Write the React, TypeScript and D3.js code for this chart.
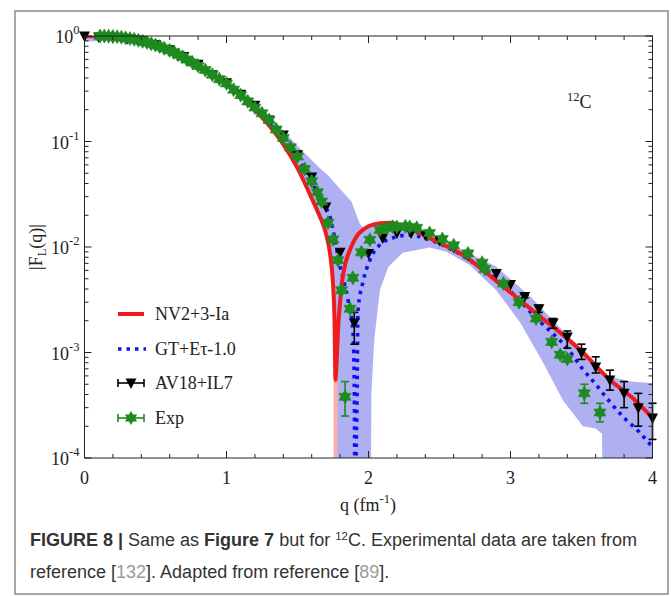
import React from 'react';
import * as d3 from 'd3';

// ---------- data ----------
const redQ = [0, 0.2, 0.4, 0.6, 0.8, 1.0, 1.1, 1.2, 1.3, 1.4, 1.5, 1.6, 1.65, 1.7, 1.73, 1.75, 1.76, 1.768, 1.775, 1.785, 1.8, 1.813, 1.84, 1.87, 1.92, 1.96, 2.0, 2.08, 2.15, 2.3, 2.45, 2.665, 2.95, 3.19, 3.49, 3.7, 3.85, 4.0];
const redV = [1.0, 0.96, 0.855, 0.7, 0.5, 0.345, 0.27, 0.2, 0.142, 0.094, 0.056, 0.029, 0.0205, 0.0135, 0.0085, 0.0045, 0.0022, 0.00055, 0.0008, 0.0016, 0.003, 0.0046, 0.0072, 0.0094, 0.0128, 0.0145, 0.0157, 0.0168, 0.017, 0.0148, 0.0118, 0.0084, 0.0042, 0.0023, 0.00106, 0.00055, 0.00038, 0.00024];

const blueQ = [0, 0.2, 0.4, 0.6, 0.8, 1.0, 1.2, 1.4, 1.5, 1.6, 1.66, 1.73, 1.8, 1.855, 1.89, 1.9, 1.905, 1.912, 1.919, 1.926, 1.96, 2.01, 2.08, 2.2, 2.29, 2.43, 2.55, 2.8, 3.0, 3.2, 3.3, 3.4, 3.5, 3.6, 3.7, 3.8, 3.9, 4.0];
const blueV = [1.0, 0.965, 0.87, 0.72, 0.53, 0.37, 0.22, 0.1, 0.068, 0.042, 0.028, 0.019, 0.0065, 0.0032, 0.0016, 0.0005, 0.00003, 0.0001, 0.00035, 0.0025, 0.0046, 0.0075, 0.0105, 0.0125, 0.013, 0.0117, 0.010, 0.0062, 0.0038, 0.002, 0.0015, 0.0011, 0.00072, 0.0005, 0.00034, 0.00024, 0.00018, 0.000127];

const bandUpQ = [0, 0.3, 0.6, 0.9, 1.1, 1.3, 1.47, 1.55, 1.65, 1.72, 1.78, 1.84, 1.88, 1.91, 1.94, 1.97, 2.05, 2.15, 2.3, 2.5, 2.67, 2.9, 3.14, 3.37, 3.56, 3.7, 3.85, 4.0];
const bandUpV = [1.0, 0.955, 0.74, 0.47, 0.31, 0.178, 0.1, 0.078, 0.057, 0.047, 0.038, 0.031, 0.027, 0.021, 0.0165, 0.0148, 0.0162, 0.0167, 0.0148, 0.0118, 0.0093, 0.0065, 0.0034, 0.0016, 0.0008, 0.00059, 0.00053, 0.00051];
const bandLoQ = [0, 0.15, 0.3, 0.45, 0.6, 0.8, 1.0, 1.2, 1.4, 1.5, 1.6, 1.7, 1.75, 1.762, 1.768, 2.012, 2.02, 2.04, 2.08, 2.14, 2.24, 2.43, 2.55, 2.71, 2.9, 3.07, 3.23, 3.37, 3.51, 3.6, 3.645, 3.655, 4.0];
const bandLoV = [0.88, 0.9, 0.92, 0.82, 0.69, 0.5, 0.34, 0.2, 0.094, 0.056, 0.029, 0.0135, 0.0045, 0.0012, 0.000001, 0.000001, 0.0004, 0.0013, 0.0039, 0.0065, 0.0088, 0.0099, 0.009, 0.0068, 0.0039, 0.0019, 0.0008, 0.00035, 0.0002, 0.00019, 0.00017, 0.000001, 0.000001];

const pinkQ = [1.745, 1.752, 1.758, 1.778, 1.784, 1.795];
const pinkHi = [0.0055, 0.0035, 0.0018, 0.0012, 0.0018, 0.0028];
const pinkLo = [0.0052, 0.003, 0.000001, 0.000001, 0.0014, 0.0026];

const avQ = [0, 0.1, 0.2, 0.3, 0.4, 0.5, 0.6, 0.7, 0.8, 0.9, 1.0, 1.1, 1.2, 1.3, 1.4, 1.5, 1.6, 1.7, 1.8, 1.9, 2.0, 2.1, 2.2, 2.3, 2.4, 2.5, 2.6, 2.7, 2.8, 2.9, 3.0, 3.1, 3.2, 3.3, 3.4, 3.5, 3.6, 3.7, 3.8, 3.9, 4.0];
const avV = [1.0, 0.98, 0.97, 0.94, 0.9, 0.83, 0.74, 0.64, 0.54, 0.43, 0.36, 0.28, 0.22, 0.16, 0.115, 0.075, 0.046, 0.024, 0.0089, 0.0019, 0.0087, 0.0122, 0.0136, 0.0136, 0.013, 0.0115, 0.0099, 0.0083, 0.0068, 0.0056, 0.0044, 0.0034, 0.0026, 0.0019, 0.0014, 0.001, 0.00073, 0.00055, 0.00041, 0.0003, 0.00024];
const avLo = [1.0, 0.98, 0.97, 0.94, 0.9, 0.83, 0.74, 0.64, 0.54, 0.43, 0.36, 0.28, 0.22, 0.16, 0.115, 0.075, 0.046, 0.024, 0.0089, 0.0012, 0.0087, 0.0122, 0.0136, 0.0136, 0.013, 0.0115, 0.0099, 0.0083, 0.0068, 0.0056, 0.0044, 0.0033, 0.0024, 0.0017, 0.0011, 0.00086, 0.00064, 0.00044, 0.0003, 0.0002, 0.00015];
const avHi = [1.0, 0.98, 0.97, 0.94, 0.9, 0.83, 0.74, 0.64, 0.54, 0.43, 0.36, 0.28, 0.22, 0.16, 0.115, 0.075, 0.046, 0.024, 0.0089, 0.0024, 0.0087, 0.0122, 0.0136, 0.0136, 0.013, 0.0115, 0.0099, 0.0083, 0.0068, 0.0056, 0.0044, 0.0035, 0.0028, 0.0021, 0.0016, 0.0012, 0.00091, 0.00068, 0.00053, 0.00041, 0.00033];

const expQ = [0.11, 0.14, 0.17, 0.2, 0.23, 0.26, 0.29, 0.32, 0.35, 0.38, 0.41, 0.44, 0.47, 0.5, 0.53, 0.56, 0.6, 0.63, 0.66, 0.69, 0.72, 0.76, 0.8, 0.85, 0.9, 0.95, 1.0, 1.05, 1.1, 1.15, 1.2, 1.25, 1.3, 1.35, 1.4, 1.45, 1.5, 1.55, 1.6, 1.64, 1.67, 1.715, 1.75, 1.785, 1.81, 1.835, 1.87, 1.89, 1.95, 2.01, 2.08, 2.13, 2.17, 2.2, 2.26, 2.29, 2.34, 2.43, 2.52, 2.6, 2.7, 2.8, 2.82, 2.95, 3.06, 3.18, 3.29, 3.35, 3.4, 3.52, 3.63];
const expV = [1.0, 1.0, 0.995, 0.99, 0.985, 0.975, 0.96, 0.945, 0.93, 0.91, 0.89, 0.87, 0.845, 0.82, 0.795, 0.765, 0.73, 0.70, 0.665, 0.635, 0.6, 0.56, 0.52, 0.475, 0.43, 0.39, 0.355, 0.31, 0.275, 0.24, 0.21, 0.185, 0.16, 0.13, 0.108, 0.088, 0.072, 0.055, 0.042, 0.033, 0.027, 0.017, 0.0118, 0.0075, 0.0039, 0.00038, 0.0026, 0.0051, 0.0089, 0.0117, 0.0145, 0.0152, 0.0156, 0.0155, 0.0157, 0.0155, 0.0152, 0.0136, 0.0119, 0.0104, 0.0087, 0.0071, 0.0062, 0.0045, 0.003, 0.0021, 0.00126, 0.00095, 0.00087, 0.00041, 0.00027];
const expErrQ = [1.835, 3.52, 3.63];
const expErrLo = [0.00025, 0.00033, 0.00022];
const expErrHi = [0.00053, 0.0005, 0.00033];

const xTicks = [0, 1, 2, 3, 4];
const yTickExp = [0, -1, -2, -3, -4];
const legendLabels = ['NV2+3-Ia', 'GT+E\u03C4-1.0', 'AV18+IL7', 'Exp'];

const RED = '#ee1c1c';
const BLUE = '#1010f0';
const GREEN = '#1f8a1f';
const BAND = '#aeb0f2';
const PINK = '#f6b2b2';
const SERIF = '"Liberation Serif", "DejaVu Serif", serif';
const SANS = '"Liberation Sans Narrow", "Liberation Sans", Arial, sans-serif';

function hexagram(cx: number, cy: number, R: number) {
  const r = R * 0.58;
  const pts: string[] = [];
  for (let i = 0; i < 12; i++) {
    const a = -Math.PI / 2 + (i * Math.PI) / 6;
    const rr = i % 2 === 0 ? R : r;
    pts.push(`${cx + rr * Math.cos(a)},${cy + rr * Math.sin(a)}`);
  }
  return 'M' + pts.join('L') + 'Z';
}
function triDown(cx: number, cy: number) {
  return `M${cx - 5.5},${cy - 4.5}L${cx + 5.5},${cy - 4.5}L${cx},${cy + 6}Z`;
}

export default function App() {
  const x = d3.scaleLinear().domain([0, 4]).range([84.5, 652.5]);
  const y = d3.scaleLog().domain([1e-4, 1]).range([458, 36]);
  const X0 = x(0), X1 = x(4), Y0 = y(1e-4), Y1 = y(1);

  const mk = (qs: number[], vs: number[]) =>
    d3.line<number>().x((_, i) => x(qs[i])).y((_, i) => y(vs[i])).curve(d3.curveMonotoneX)(qs) || '';

  const redPath = mk(redQ, redV);
  const bluePath = mk(blueQ, blueV);

  const polyPts: [number, number][] = [];
  bandUpQ.forEach((q, i) => polyPts.push([x(q), y(bandUpV[i])]));
  for (let i = bandLoQ.length - 1; i >= 0; i--) polyPts.push([x(bandLoQ[i]), y(bandLoV[i])]);
  const bandPath = d3.line()(polyPts) + 'Z';

  const pinkPts: [number, number][] = [];
  pinkQ.forEach((q, i) => pinkPts.push([x(q), y(pinkHi[i])]));
  for (let i = pinkQ.length - 1; i >= 0; i--) pinkPts.push([x(pinkQ[i]), y(pinkLo[i])]);
  const pinkPath = d3.line()(pinkPts) + 'Z';

  const xMinor: number[] = d3.range(0, 4.0001, 0.2).filter((v) => Math.abs(v - Math.round(v)) > 1e-6);
  const yMinor: number[] = [];
  for (let k = -4; k < 0; k++) for (let m = 2; m <= 9; m++) yMinor.push(m * Math.pow(10, k));

  const legendY = [314, 349, 383, 418];
  const lx0 = 118, lx1 = 144, lxm = 131;

  return (
    <div style={{ position: 'absolute', left: 0, top: 0 }}>
      <svg width={671} height={596} style={{ display: 'block', background: '#fff' }}>
        <defs>
          <clipPath id="plotclip">
            <rect x={X0} y={Y1} width={X1 - X0} height={Y0 - Y1} />
          </clipPath>
        </defs>
        <rect x={15} y={11} width={653} height={583} fill="none" stroke="#8a8a8a" strokeWidth={1.5} />

        <g clipPath="url(#plotclip)">
          <path d={bandPath} fill={BAND} stroke="none" />
          <path d={pinkPath} fill={PINK} stroke="none" />
          <path d={bluePath} fill="none" stroke={BLUE} strokeWidth={3.6} strokeDasharray="3.5,5" />
          <path d={redPath} fill="none" stroke={RED} strokeWidth={4} />
        </g>

        <g>
          {avQ.map((q, i) =>
            avHi[i] > avLo[i] ? (
              <g key={'e' + i} stroke="#000" strokeWidth={1.6}>
                <line x1={x(q)} x2={x(q)} y1={y(avLo[i])} y2={y(avHi[i])} />
                <line x1={x(q) - 4} x2={x(q) + 4} y1={y(avLo[i])} y2={y(avLo[i])} />
                <line x1={x(q) - 4} x2={x(q) + 4} y1={y(avHi[i])} y2={y(avHi[i])} />
              </g>
            ) : null
          )}
          {avQ.map((q, i) => (
            <path key={'t' + i} d={triDown(x(q), y(avV[i]))} fill="#000" />
          ))}
        </g>

        <g>
          {expErrQ.map((q, i) => (
            <g key={'ge' + i} stroke={GREEN} strokeWidth={1.6}>
              <line x1={x(q)} x2={x(q)} y1={y(expErrLo[i])} y2={y(expErrHi[i])} />
              <line x1={x(q) - 4} x2={x(q) + 4} y1={y(expErrLo[i])} y2={y(expErrLo[i])} />
              <line x1={x(q) - 4} x2={x(q) + 4} y1={y(expErrHi[i])} y2={y(expErrHi[i])} />
            </g>
          ))}
          {expQ.map((q, i) => (
            <path key={'g' + i} d={hexagram(x(q), y(expV[i]), 7)} fill={GREEN} stroke={GREEN} strokeWidth={0.6} />
          ))}
        </g>

        <rect x={X0} y={Y1} width={X1 - X0} height={Y0 - Y1} fill="none" stroke="#222" strokeWidth={1} />
        {xTicks.map((t) => (
          <g key={'xt' + t} stroke="#222">
            <line x1={x(t)} x2={x(t)} y1={Y0} y2={Y0 - 7} />
            <line x1={x(t)} x2={x(t)} y1={Y1} y2={Y1 + 7} />
          </g>
        ))}
        {xMinor.map((t, i) => (
          <g key={'xm' + i} stroke="#222">
            <line x1={x(t)} x2={x(t)} y1={Y0} y2={Y0 - 4} />
            <line x1={x(t)} x2={x(t)} y1={Y1} y2={Y1 + 4} />
          </g>
        ))}
        {yTickExp.map((e) => (
          <g key={'yt' + e} stroke="#222">
            <line x1={X0} x2={X0 + 7} y1={y(Math.pow(10, e))} y2={y(Math.pow(10, e))} />
            <line x1={X1} x2={X1 - 7} y1={y(Math.pow(10, e))} y2={y(Math.pow(10, e))} />
          </g>
        ))}
        {yMinor.map((v, i) => (
          <g key={'ym' + i} stroke="#222">
            <line x1={X0} x2={X0 + 4} y1={y(v)} y2={y(v)} />
            <line x1={X1} x2={X1 - 4} y1={y(v)} y2={y(v)} />
          </g>
        ))}

        {xTicks.map((t) => (
          <text key={'xl' + t} x={x(t)} y={Y0 + 26} textAnchor="middle" fontFamily={SERIF} fontSize={18} fill="#222">
            {t}
          </text>
        ))}
        {yTickExp.map((e) => (
          <text key={'yl' + e} x={X0 - 5} y={y(Math.pow(10, e)) + 7} textAnchor="end" fontFamily={SERIF} fontSize={18} fill="#222">
            10
            <tspan fontSize={12.5} dy={-9}>
              {e === 0 ? '0' : e}
            </tspan>
          </text>
        ))}

        <text x={368} y={511} textAnchor="middle" fontFamily={SERIF} fontSize={18} fill="#222">
          q (fm<tspan fontSize={12.5} dy={-8}>-1</tspan>
          <tspan dy={8}>)</tspan>
        </text>
        <text transform="translate(42,247) rotate(-90)" textAnchor="middle" fontFamily={SERIF} fontSize={18} fill="#222">
          |F<tspan fontSize={12.5} dy={4}>L</tspan>
          <tspan dy={-4}>(q)|</tspan>
        </text>

        <text x={567} y={108} fontFamily={SERIF} fill="#222">
          <tspan fontSize={12.5} dy={-7}>12</tspan>
          <tspan fontSize={18} dy={7}>C</tspan>
        </text>

        <line x1={lx0} x2={lx1} y1={legendY[0]} y2={legendY[0]} stroke={RED} strokeWidth={4} />
        <line x1={lx0} x2={lx1 + 2} y1={legendY[1]} y2={legendY[1]} stroke={BLUE} strokeWidth={3.6} strokeDasharray="3.5,5" />
        <g stroke="#000" strokeWidth={1.6}>
          <line x1={lx0} x2={lx1} y1={legendY[2]} y2={legendY[2]} />
          <line x1={lx0} x2={lx0} y1={legendY[2] - 4} y2={legendY[2] + 4} />
          <line x1={lx1} x2={lx1} y1={legendY[2] - 4} y2={legendY[2] + 4} />
        </g>
        <path d={triDown(lxm, legendY[2])} fill="#000" />
        <g stroke={GREEN} strokeWidth={1.6}>
          <line x1={lx0} x2={lx1} y1={legendY[3]} y2={legendY[3]} />
          <line x1={lx0} x2={lx0} y1={legendY[3] - 4} y2={legendY[3] + 4} />
          <line x1={lx1} x2={lx1} y1={legendY[3] - 4} y2={legendY[3] + 4} />
        </g>
        <path d={hexagram(lxm, legendY[3], 7)} fill={GREEN} />
        {legendLabels.map((l, i) => (
          <text key={'lg' + i} x={155} y={legendY[i] + 6} fontFamily={SERIF} fontSize={18} fill="#222">
            {l}
          </text>
        ))}

        <text x={30} y={546} fontFamily={SANS} fontSize={18} fill="#333">
          <tspan fontWeight="bold">FIGURE 8 |</tspan>
          <tspan> Same as </tspan>
          <tspan fontWeight="bold">Figure 7</tspan>
          <tspan> but for </tspan>
          <tspan fontSize={11.5} dy={-6}>12</tspan>
          <tspan dy={6}>C. Experimental data are taken from</tspan>
        </text>
        <text x={30} y={578} fontFamily={SANS} fontSize={18} fill="#333">
          <tspan>reference [</tspan>
          <tspan fill="#9a9a9a">132</tspan>
          <tspan>]. Adapted from reference [</tspan>
          <tspan fill="#9a9a9a">89</tspan>
          <tspan>].</tspan>
        </text>
      </svg>
    </div>
  );
}
